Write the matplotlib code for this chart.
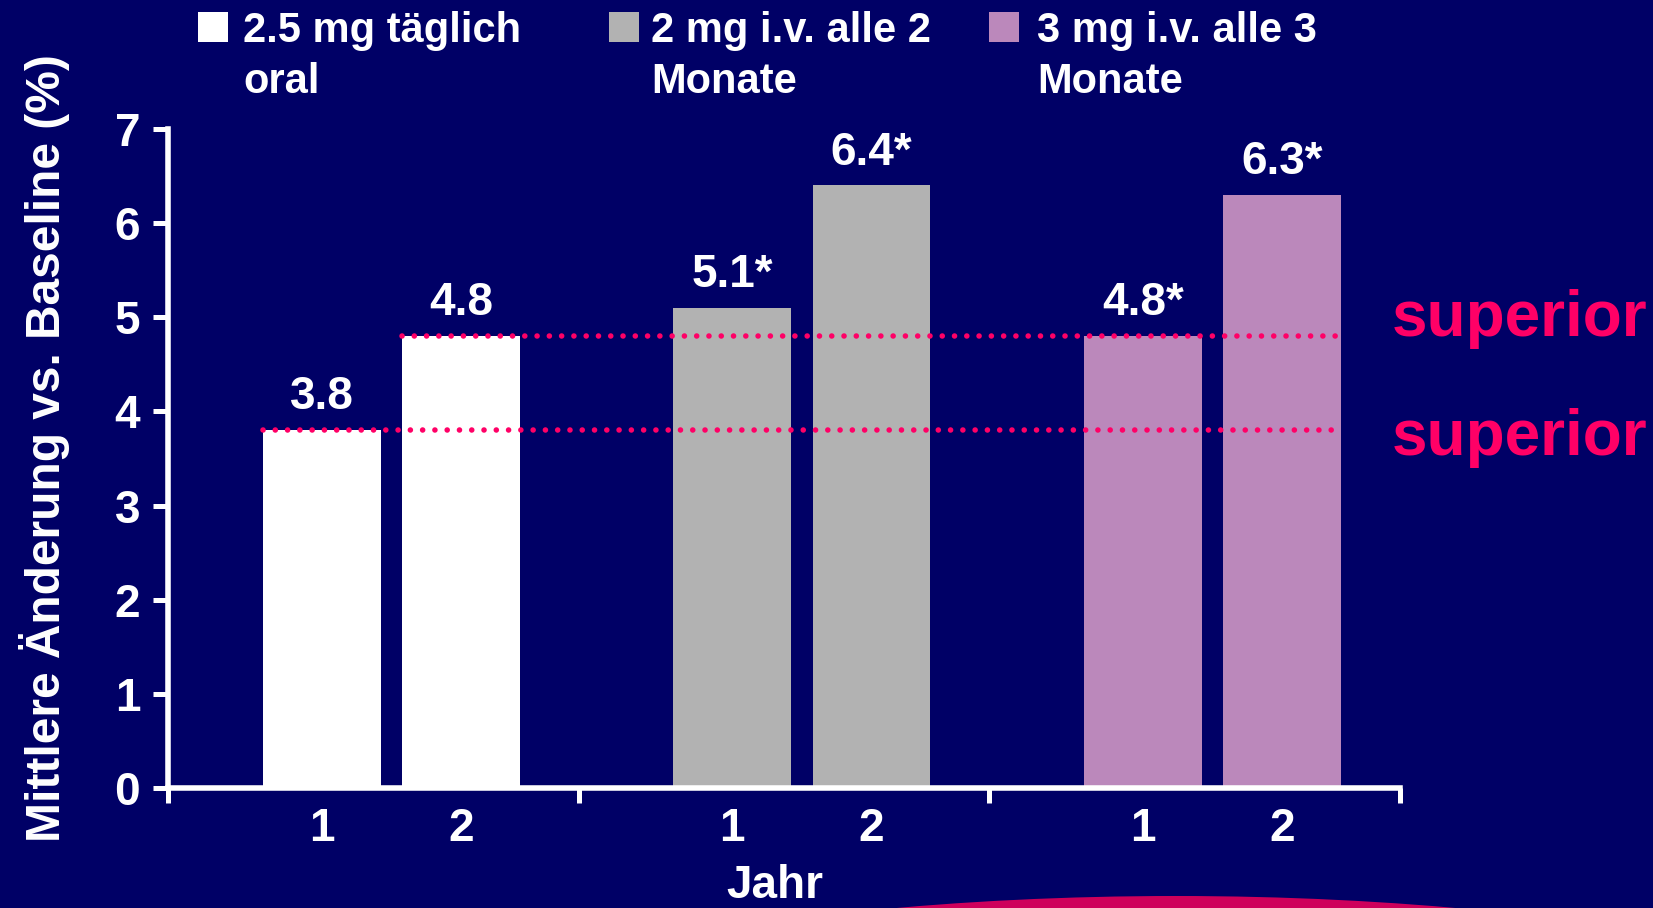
import matplotlib
matplotlib.use("Agg")
import matplotlib.pyplot as plt
from matplotlib.patches import Rectangle, Ellipse

# --- data -------------------------------------------------------------
treatments = ["2.5 mg täglich\noral", "2 mg i.v. alle 2\nMonate", "3 mg i.v. alle 3\nMonate"]
years = ["1", "2"]
oral_vals = [3.8, 4.8]
iv2_vals = [5.1, 6.4]
iv3_vals = [4.8, 6.3]
significant = [[False, False], [True, True], [True, True]]
y_ticks = [0, 1, 2, 3, 4, 5, 6, 7]
superior_label = "superior"

series = [oral_vals, iv2_vals, iv3_vals]
colors = ["#FFFFFF", "#B2B2B2", "#BB88BB"]

# --- style ------------------------------------------------------------
BG = "#000066"
PINK = "#FF0066"
FONT = ["Liberation Sans", "DejaVu Sans"]
plt.rcParams["font.family"] = FONT
plt.rcParams["font.weight"] = "bold"

W, H = 1653, 908
fig = plt.figure(figsize=(W / 100, H / 100), dpi=100, facecolor=BG)


def fx(x):
    return x / W


def fy(y):
    return 1 - y / H


ax = fig.add_axes([fx(168), fy(788), fx(1400) - fx(168), fy(129) - fy(788)])
ax.set_facecolor(BG)

offsets = [0.374, 0.713]
bar_w = 0.287

for g, vals in enumerate(series):
    xs = [g + o for o in offsets]
    ax.bar(xs, vals, width=bar_w, color=colors[g], zorder=2, linewidth=0)
    for x, v, sig in zip(xs, vals, significant[g]):
        ax.annotate(f"{v:.1f}" + ("*" if sig else ""), (x, v), xytext=(0, 15),
                    textcoords="offset points", ha="center", va="baseline",
                    color="white", fontsize=33, fontweight="bold")

# dotted reference lines at the oral values, across to the last bar
last_right = (len(series) - 1) + offsets[-1] + bar_w / 2
for o, v in zip(offsets, oral_vals):
    ax.plot([o - bar_w / 2, last_right], [v, v], color=PINK, lw=4.0,
            dashes=[0.01, 2.2], dash_capstyle="round", zorder=3)

ax.set_xlim(0, len(series))
ax.set_ylim(0, 7)

# axes styling
for s in ["top", "right"]:
    ax.spines[s].set_visible(False)
for s in ["left", "bottom"]:
    ax.spines[s].set_color("white")
    ax.spines[s].set_linewidth(4)
    ax.spines[s].set_zorder(4)
ax.spines["left"].set_bounds(0, 7)

ax.set_yticks(y_ticks)
ax.set_yticklabels([str(t) for t in y_ticks])
ax.tick_params(axis="y", colors="white", length=11, width=3.6, pad=9,
               labelsize=33, direction="out")

ax.set_xticks(range(len(series) + 1))
ax.set_xticklabels([])
ax.tick_params(axis="x", which="major", colors="white", length=11, width=3.6,
               direction="out")
minor_pos = [g + o for g in range(len(series)) for o in offsets]
ax.set_xticks(minor_pos, minor=True)
ax.set_xticklabels(years * len(series), minor=True)
ax.tick_params(axis="x", which="minor", length=0, pad=14, labelsize=33,
               labelcolor="white")
for lab in ax.get_xticklabels(minor=True) + ax.get_yticklabels():
    lab.set_fontweight("bold")

# axis titles
fig.text(fx(775), fy(898), "Jahr", ha="center", va="baseline", color="white",
         fontsize=33, fontweight="bold")
fig.text(fx(45), fy(448), "Mittlere Änderung vs. Baseline (%)", rotation=90,
         ha="center", va="center", color="white", fontsize=34.5, fontweight="bold")

# "superior" annotations
fig.text(fx(1392), fy(336), superior_label, ha="left", va="baseline",
         color=PINK, fontsize=46, fontweight="bold")
fig.text(fx(1392), fy(455), superior_label, ha="left", va="baseline",
         color=PINK, fontsize=46, fontweight="bold")

# legend
sq_x = [198, 609, 989]
txt_x = [243, 651, 1037]
for sx, tx, lab, c in zip(sq_x, txt_x, treatments, colors):
    fig.patches.append(Rectangle((fx(sx), fy(42)), fx(30), 30 / H,
                                 transform=fig.transFigure, facecolor=c,
                                 edgecolor="none"))
    first, second = lab.split("\n")
    fig.text(fx(tx), fy(42), first, ha="left", va="baseline",
             color="white", fontsize=30, fontweight="bold")
    fig.text(fx(tx), fy(93), second, ha="left", va="baseline",
             color="white", fontsize=30, fontweight="bold")

# decorative arc at the bottom edge
fig.patches.append(Ellipse((fx(1176), fy(896 + 200)), 2 * 820 / W, 400 / H,
                           transform=fig.transFigure, facecolor="#E6005A",
                           edgecolor="none", alpha=0.9, zorder=0))

fig.savefig("out.png", dpi=100, facecolor=BG)
